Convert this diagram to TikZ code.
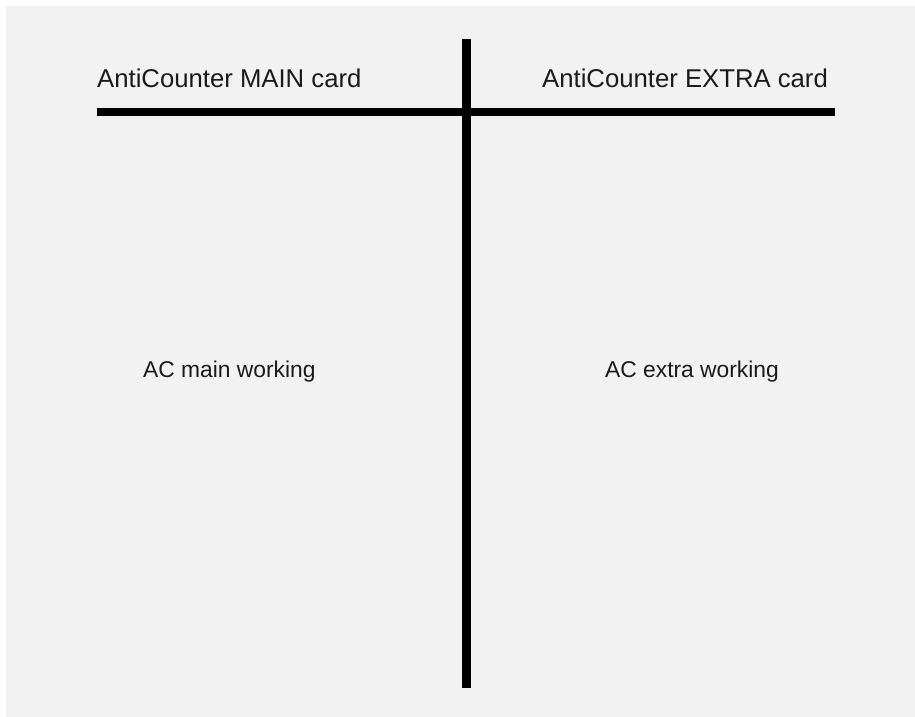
\documentclass[tikz,border=0pt]{standalone}
\usepackage{fontspec}
\setmainfont{Liberation Sans}
\definecolor{bggray}{HTML}{F2F2F2}
\definecolor{txt}{HTML}{1A1A1A}
\begin{document}
\begin{tikzpicture}[x=1pt,y=-1pt,
  title/.style={anchor=base west, inner sep=0pt, text=txt, font=\fontsize{25.7}{30}\selectfont},
  label/.style={anchor=base west, inner sep=0pt, text=txt, font=\fontsize{22.8}{27}\selectfont},
  bar/.style={line width=8pt, draw=black}]
\useasboundingbox (0,0) rectangle (915,717);
\fill[white] (0,0) rectangle (915,717);
\fill[bggray] (6,6) rectangle (915,717);
\coordinate (vtop) at (466,39);
\coordinate (vbot) at (466,688);
\coordinate (hl) at (97,112);
\coordinate (hr) at (835,112);
\draw[bar] (hl) -- (hr);
\draw[line width=9pt] (vtop) -- (vbot);
\node[title] (main) at (97,87) {AntiCounter MAIN card};
\node[title] (extra) at (542,87) {AntiCounter EXTRA card};
\node[label] (mainw) at (143,377) {AC main working};
\node[label] (extraw) at (605,377) {AC extra working};
\end{tikzpicture}
\end{document}
